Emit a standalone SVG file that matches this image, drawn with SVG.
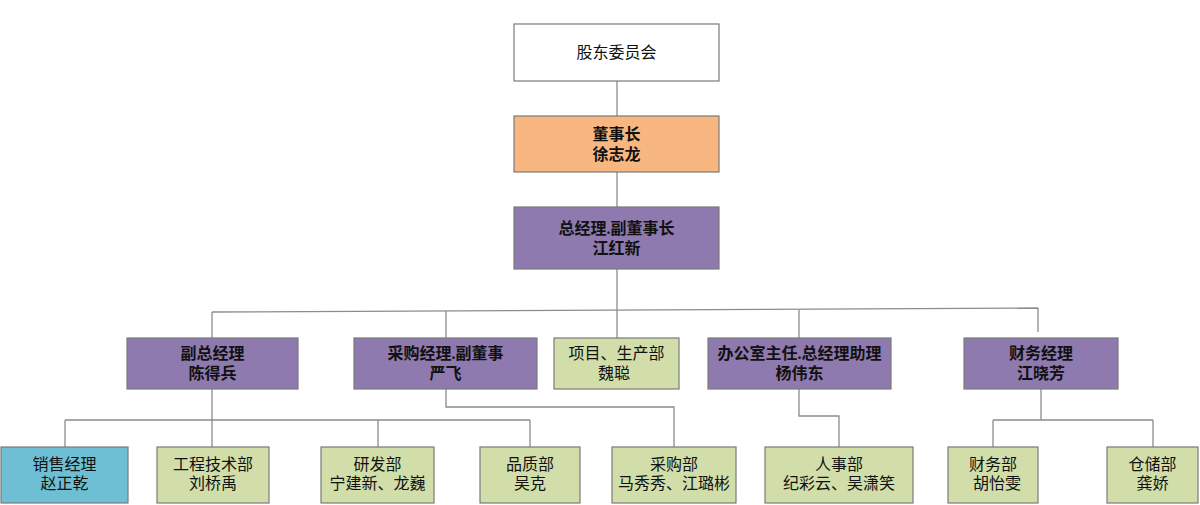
<svg xmlns="http://www.w3.org/2000/svg" width="1200" height="505" viewBox="0 0 1200 505">
<style>
.box{stroke:#7a7a7a;stroke-width:1.2}
.w{fill:#ffffff}
.o{fill:#f8b680}
.p{fill:#8e7aae}
.g{fill:#d2deaa}
.b{fill:#6ebfd3}
.t{font-family:"Liberation Serif","Noto Sans CJK SC",serif;font-size:16px;fill:#111;text-anchor:middle}
.bold{font-weight:bold}
#connectors path{fill:none;stroke:#8c8c8c;stroke-width:1.3}
</style>
<rect width="1200" height="505" fill="#ffffff"/>
<g id="connectors">
<path d="M617 81V116M617 172V207M617 269V310"/>
<path d="M212 312L1038 308"/>
<path d="M212 312V338M446 311V338M617 310V338M799 310V338M1038 308V332"/>
<path d="M212 389V420M65 420H530M65 420V447M212 420V447M378 420V447M530 420V447"/>
<path d="M446 389V407H674V447"/>
<path d="M799 389V416H839V447"/>
<path d="M1041 389V420M993 420H1153M993 420V447M1153 420V447"/>
</g>
<g id="n_gudong"><rect class="box w" x="514" y="24" width="205" height="57"/><text class="t" x="616.5" y="58">股东委员会</text></g>
<g id="n_dongshizhang"><rect class="box o" x="514" y="116" width="205" height="56"/><text class="t bold" x="616.5" y="140">董事长</text><text class="t bold" x="616.5" y="160">徐志龙</text></g>
<g id="n_zongjingli"><rect class="box p" x="514" y="207" width="205" height="62"/><text class="t bold" x="616.5" y="234">总经理.副董事长</text><text class="t bold" x="616.5" y="254">江红新</text></g>
<g id="n_fuzong"><rect class="box p" x="127" y="338" width="171" height="51"/><text class="t bold" x="212.5" y="359">副总经理</text><text class="t bold" x="212.5" y="379">陈得兵</text></g>
<g id="n_caigoujingli"><rect class="box p" x="354" y="338" width="183" height="51"/><text class="t bold" x="445.5" y="359">采购经理.副董事</text><text class="t bold" x="445.5" y="379">严飞</text></g>
<g id="n_xiangmu"><rect class="box g" x="554" y="338" width="125" height="51"/><text class="t" x="616.5" y="359">项目、生产部</text><text class="t" x="614" y="379">魏聪</text></g>
<g id="n_bangongshi"><rect class="box p" x="708" y="338" width="183" height="51"/><text class="t bold" x="799.5" y="359">办公室主任.总经理助理</text><text class="t bold" x="799.5" y="379">杨伟东</text></g>
<g id="n_caiwujingli"><rect class="box p" x="964" y="338" width="154" height="51"/><text class="t bold" x="1041" y="359">财务经理</text><text class="t bold" x="1041" y="379">江晓芳</text></g>
<g id="n_xiaoshou"><rect class="box b" x="1" y="447" width="127" height="56"/><text class="t" x="64.5" y="470">销售经理</text><text class="t" x="64.5" y="489">赵正乾</text></g>
<g id="n_gongcheng"><rect class="box g" x="157" y="447" width="112" height="56"/><text class="t" x="213" y="470">工程技术部</text><text class="t" x="213" y="489">刘桥禹</text></g>
<g id="n_yanfa"><rect class="box g" x="321" y="447" width="113" height="56"/><text class="t" x="377.5" y="470">研发部</text><text class="t" x="377.5" y="489">宁建新、龙巍</text></g>
<g id="n_pinzhi"><rect class="box g" x="480" y="447" width="100" height="56"/><text class="t" x="530" y="470">品质部</text><text class="t" x="530" y="489">吴克</text></g>
<g id="n_caigoubu"><rect class="box g" x="612" y="447" width="124" height="56"/><text class="t" x="674" y="470">采购部</text><text class="t" x="674" y="489">马秀秀、江璐彬</text></g>
<g id="n_renshi"><rect class="box g" x="765" y="447" width="148" height="56"/><text class="t" x="839" y="470">人事部</text><text class="t" x="839" y="489">纪彩云、吴潇笑</text></g>
<g id="n_caiwubu"><rect class="box g" x="948" y="447" width="90" height="56"/><text class="t" x="993" y="470">财务部</text><text class="t" x="997" y="489">胡怡雯</text></g>
<g id="n_cangchu"><rect class="box g" x="1107" y="447" width="91" height="56"/><text class="t" x="1152.5" y="470">仓储部</text><text class="t" x="1152.5" y="489">龚娇</text></g>
</svg>
